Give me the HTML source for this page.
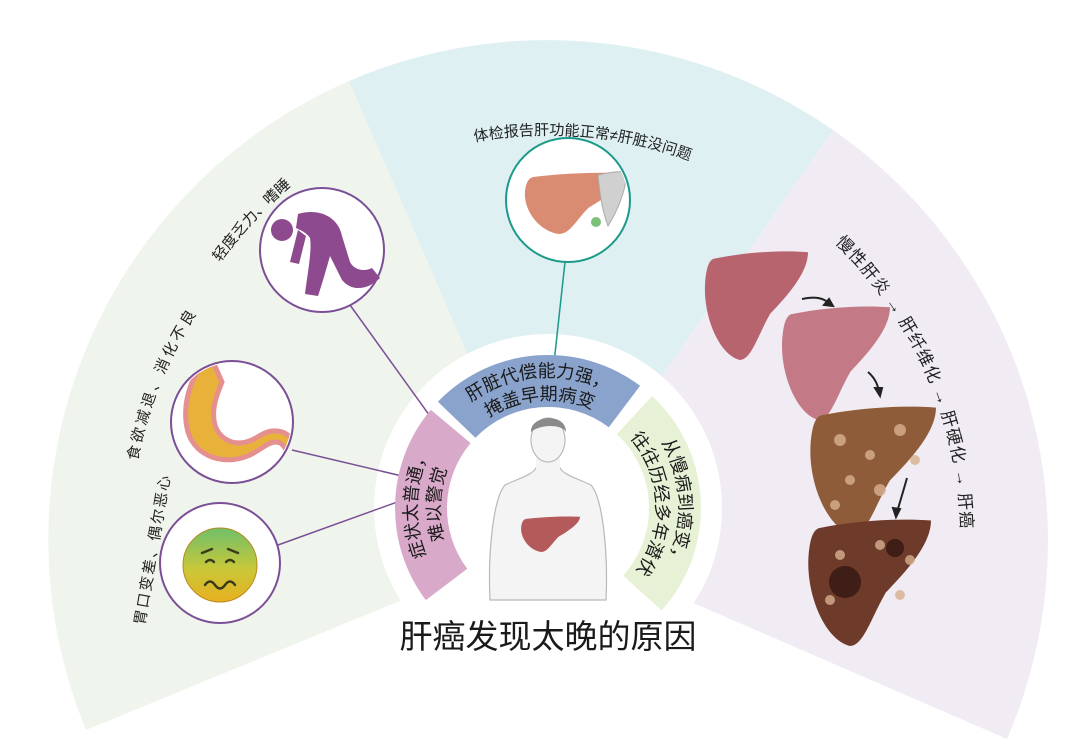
<!DOCTYPE html>
<html><head><meta charset="utf-8"><style>
html,body{margin:0;padding:0;background:#fff;}
svg{display:block;}
text{font-family:"Liberation Sans","Noto Sans CJK SC",sans-serif;}
</style></head><body>
<svg width="1080" height="755" viewBox="0 0 1080 755" xmlns="http://www.w3.org/2000/svg">
<defs>
<path id="lv" d="M10,8 C40,2 75,0 100,2 C100,20 82,40 64,58 C52,78 46,100 35,100 C15,95 0,60 2,30 C3,18 5,10 10,8 Z"/>
<linearGradient id="fg" x1="0" y1="0" x2="0" y2="1"><stop offset="0" stop-color="#6fbf6a"/><stop offset="0.55" stop-color="#c8c83a"/><stop offset="1" stop-color="#e8b020"/></linearGradient>
<clipPath id="cs"><circle cx="232" cy="422" r="59"/></clipPath>
<clipPath id="ct"><circle cx="568" cy="200" r="60"/></clipPath>
<path id="pO" d="M447.7,592.2 A131 131 0 0 1 453.8,417.0"/>
<path id="pI" d="M465.3,577.4 A108 108 0 0 1 470.3,433.0"/>
<path id="bO" d="M447.7,423.8 A131 131 0 0 1 633.9,409.1"/>
<path id="bI" d="M465.3,438.6 A108 108 0 0 1 618.9,426.5"/>
<path id="gO" d="M630.4,406.2 A131 131 0 0 1 639.0,602.2"/>
<path id="gI" d="M616.0,424.1 A108 108 0 0 1 623.0,585.7"/>
<path id="tT" d="M409.5,159.4 A405 405 0 0 1 750.5,189.3"/>
<path id="tR" d="M834.9,242.9 A413 413 0 0 1 961,540"/>
<path id="tL1" d="M208,280 A440 440 0 0 1 308,172"/>
<path id="tL2" d="M135.1,474.6 A418 418 0 0 1 205.6,300.2"/>
<path id="tL3" d="M143,634 L172,466"/>
</defs>
<path d="M548,540 L86,730 A500 500 0 0 1 349,81 Z" fill="#eff4ec"/>
<path d="M548,540 L349,81 A500 500 0 0 1 833,130 Z" fill="#dff0f3"/>
<path d="M548,540 L833,130 A500 500 0 0 1 1007,739 Z" fill="#f1ecf4"/>
<circle cx="548" cy="508" r="174" fill="#fff"/>
<line x1="350" y1="305" x2="440" y2="430" stroke="#7b4f96" stroke-width="1.5"/>
<line x1="292" y1="450" x2="440" y2="485" stroke="#7b4f96" stroke-width="1.5"/>
<line x1="278" y1="545" x2="425" y2="492" stroke="#7b4f96" stroke-width="1.5"/>
<line x1="565" y1="262" x2="553" y2="372" stroke="#1a9a8a" stroke-width="1.5"/>
<path d="M425.8,600.1 A153 153 0 0 1 430.8,409.7 L470.6,443.1 A101 101 0 0 0 467.3,568.8 Z" fill="#d9a9c9"/>
<path d="M437.9,401.7 A153 153 0 0 1 640.1,385.8 L608.8,427.3 A101 101 0 0 0 475.4,437.8 Z" fill="#8aa3cc"/>
<path d="M652.3,396.1 A153 153 0 0 1 661.7,610.4 L623.1,575.6 A101 101 0 0 0 616.9,434.1 Z" fill="#e7f1d6"/>
<g font-size="18" fill="#1a1a1a">
<text><textPath href="#pO" startOffset="50%" text-anchor="middle">症状太普通，</textPath></text>
<text><textPath href="#pI" startOffset="50%" text-anchor="middle">难以警觉</textPath></text>
<text><textPath href="#bO" startOffset="50%" text-anchor="middle">肝脏代偿能力强，</textPath></text>
<text><textPath href="#bI" startOffset="50%" text-anchor="middle">掩盖早期病变</textPath></text>
<text><textPath href="#gO" startOffset="50%" text-anchor="middle">从慢病到癌变，</textPath></text>
<text><textPath href="#gI" startOffset="50%" text-anchor="middle">往往历经多年潜伏</textPath></text>
</g>
<g fill="#f4f4f4" stroke="#b8b8b8" stroke-width="1.2">
<path d="M490,600 C488,560 492,500 505,485 C520,478 532,475 536,468 L560,468 C564,475 576,478 591,485 C604,500 608,560 606,600 Z"/>
<rect x="536" y="455" width="24" height="18" stroke="none"/>
<ellipse cx="548" cy="440" rx="17" ry="22"/>
</g>
<path d="M531,432 C530,415 566,412 566,432 C562,424 540,424 531,432 Z" fill="#8a8a8a"/>
<g transform="translate(520,516) scale(0.6,0.36)"><use href="#lv" fill="#b55a5a"/></g>
<circle cx="322" cy="250" r="62" fill="#fff" stroke="#7b4f96" stroke-width="2"/>
<circle cx="232" cy="422" r="61" fill="#fff" stroke="#7b4f96" stroke-width="2"/>
<circle cx="220" cy="563" r="60" fill="#fff" stroke="#7b4f96" stroke-width="2"/>
<circle cx="568" cy="200" r="62" fill="#fff" stroke="#1a9a8a" stroke-width="2"/>
<g fill="#8e4a8e">
<circle cx="282" cy="230" r="11"/>
<path d="M298,214 C318,208 338,216 342,236 L350,262 C354,270 364,272 372,268 L380,278 C368,290 352,292 342,280 L330,256 C326,270 322,284 318,296 L305,294 C308,270 312,250 310,238 C306,232 300,230 296,228 Z"/>
<path d="M298,230 L290,262 L299,264 L306,236 Z"/>
</g>
<g clip-path="url(#cs)">
<path d="M200,368 C188,385 182,410 188,432 C196,458 226,466 250,455 C262,449 268,442 276,442 C282,442 286,448 288,456 L298,452 C294,436 284,430 272,431 C262,432 256,440 246,442 C230,446 216,436 214,420 C212,406 218,392 222,382 L214,364 Z" fill="#e8b23a" stroke="#e58f8f" stroke-width="5"/>
</g>
<circle cx="220" cy="565" r="37" fill="url(#fg)" stroke="#b88a20" stroke-width="1"/>
<g fill="none" stroke="#3a3a1a" stroke-width="2.4" stroke-linecap="round">
<path d="M202,553 L212,549"/><path d="M238,553 L228,549"/>
<path d="M206,562 q4,-4 8,0"/><path d="M226,562 q4,-4 8,0"/>
<path d="M205,585 q5,-7 10,0 q5,7 10,0 q5,-7 10,0"/>
</g>
<g clip-path="url(#ct)">
<g transform="translate(523,172) scale(1.02,0.62)"><use href="#lv" fill="#d98c72"/></g>
<path d="M598,175 C610,172 620,171 627,172 C626,190 618,210 608,226 C602,210 600,195 598,175 Z" fill="#d0d0d0" stroke="#aaa"/>
</g>
<circle cx="596" cy="222" r="5" fill="#7cc07a"/>
<g transform="translate(703,250) scale(1.05,1.1)"><use href="#lv" fill="#b8646f"/></g>
<g transform="translate(780,305) scale(1.1,1.15)"><use href="#lv" fill="#c47a86"/></g>
<g transform="translate(808,405) scale(1.28,1.3)"><use href="#lv" fill="#8e5c38"/></g>
<g transform="translate(806,518) scale(1.25,1.28)"><use href="#lv" fill="#6e3a2a"/></g>
<g fill="#d8b090" opacity="0.8">
<circle cx="840" cy="440" r="6"/><circle cx="870" cy="455" r="5"/><circle cx="900" cy="430" r="6"/><circle cx="850" cy="480" r="5"/><circle cx="880" cy="490" r="6"/><circle cx="915" cy="460" r="5"/><circle cx="835" cy="505" r="5"/>
<circle cx="840" cy="555" r="5"/><circle cx="880" cy="545" r="5"/><circle cx="910" cy="560" r="5"/><circle cx="830" cy="600" r="5"/><circle cx="900" cy="595" r="5"/>
</g>
<circle cx="845" cy="582" r="16" fill="#3e1e16"/><circle cx="895" cy="548" r="9" fill="#3e1e16"/>
<g stroke="#222" stroke-width="2" fill="#222">
<path d="M802,299 C815,296 824,298 830,304" fill="none"/><path d="M833,306 l-9,-1 l5,-6 z"/>
<path d="M868,372 C875,378 878,385 879,392" fill="none"/><path d="M880,396 l-5,-8 l7,0 z"/>
<path d="M907,478 C903,492 900,502 897,512" fill="none"/><path d="M896,517 l-3,-9 l7,1 z"/>
</g>
<g font-size="15" fill="#222">
<text><textPath href="#tT" startOffset="50%" text-anchor="middle">体检报告肝功能正常≠肝脏没问题</textPath></text>
<text><textPath href="#tR" textLength="320" lengthAdjust="spacing" font-size="17">慢性肝炎 → 肝纤维化 → 肝硬化 → 肝癌</textPath></text>
<text><textPath href="#tL1" startOffset="50%" text-anchor="middle">轻度乏力、嗜睡</textPath></text>
<text><textPath href="#tL2" startOffset="50%" text-anchor="middle" letter-spacing="3">食欲减退、消化不良</textPath></text>
<text><textPath href="#tL3" startOffset="50%" text-anchor="middle" letter-spacing="2">胃口变差、偶尔恶心</textPath></text>
</g>
<text x="548" y="648" font-size="33" text-anchor="middle" fill="#1a1a1a">肝癌发现太晚的原因</text>
</svg>
</body></html>
